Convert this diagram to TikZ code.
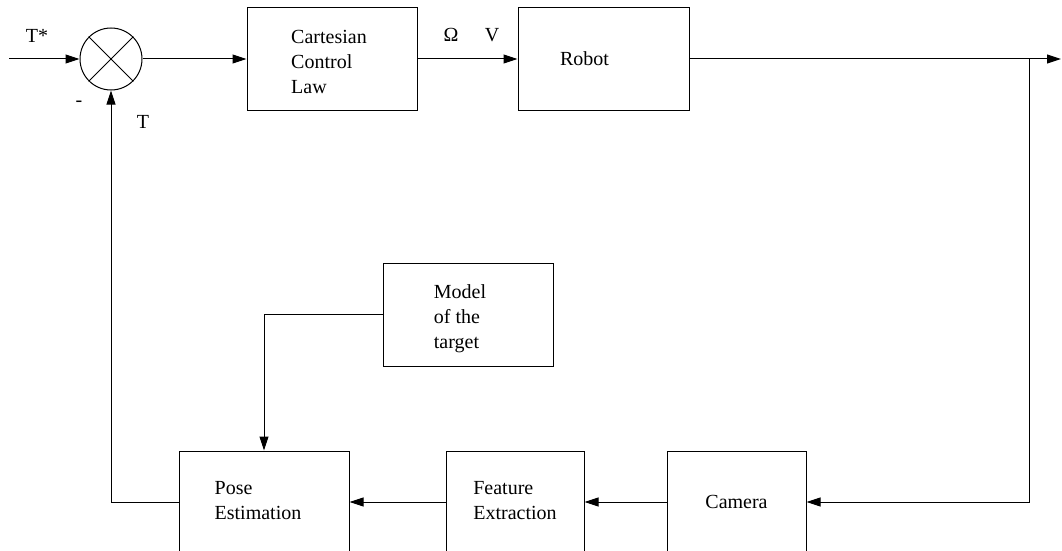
\documentclass[tikz,border=0pt]{standalone}
\usepackage{fontspec}
\setmainfont{Liberation Serif}
\usetikzlibrary{arrows.meta}
\begin{document}
\begin{tikzpicture}[x=1pt,y=-1pt,
  every node/.style={font=\fontsize{20}{25}\selectfont},
  box/.style={draw, line width=1pt, inner sep=0pt, align=left},
  lbl/.style={inner sep=0pt},
  arr/.style={-{Triangle[length=14pt,width=9pt]}},
  line width=1pt]
\useasboundingbox (0,0) rectangle (1062,551);
\clip (0,0) rectangle (1062,551);
% top row
\node[draw, circle, minimum size=62pt, inner sep=0pt, line width=1pt] (sum) at (111,59) {};
\draw (sum.north west) -- (sum.south east) (sum.north east) -- (sum.south west);
\node[box, minimum width=170pt, minimum height=102pt, label={[lbl, xshift=-3pt, yshift=-3pt, align=left]center:Cartesian\\Control\\Law}] (ccl) at (332,59) {};
\node[box, minimum width=171pt, minimum height=102pt, label={[lbl, xshift=-19pt]center:Robot}] (robot) at (603.5,59) {};
% bottom row
\node[box, minimum width=170pt, minimum height=102pt, label={[lbl, xshift=-6pt, yshift=1pt, align=left]center:Pose\\Estimation}] (pose) at (264,502) {};
\node[box, minimum width=138pt, minimum height=102pt, label={[lbl, yshift=1pt, align=left]center:Feature\\Extraction}] (feat) at (515,502) {};
\node[box, minimum width=139pt, minimum height=102pt] (cam) at (736.5,502) {Camera};
\node[box, minimum width=170pt, minimum height=103pt, label={[lbl, xshift=-8pt, yshift=-4pt, align=left]center:Model\\of the\\target}] (model) at (468,314.5) {};
% connectors
\coordinate (in) at (9,59);
\coordinate (out) at (1061,59);
\coordinate (br) at (1029,59);
\draw[arr] (in) -- (sum.west);
\draw[arr] (sum.east) -- (ccl.west);
\draw[arr] (ccl.east) -- (robot.west);
\draw[arr] (robot.east) -- (out);
\draw[arr] (br) |- (cam.east);
\draw[arr] (cam.west) -- (feat.east);
\draw[arr] (feat.west) -- (pose.east);
\draw[arr] (pose.west) -| (sum.south);
\draw[arr] (model.west) -| (pose.north -| 264,0);
% labels
\node[lbl] (tstar) at (37,36) {T*};
\node[lbl] (minus) at (79,104) {-};
\node[lbl] (tlab) at (143,122) {T};
\node[lbl] (omega) at (451,35) {Ω};
\node[lbl] (vlab) at (492,35) {V};
\end{tikzpicture}
\end{document}
